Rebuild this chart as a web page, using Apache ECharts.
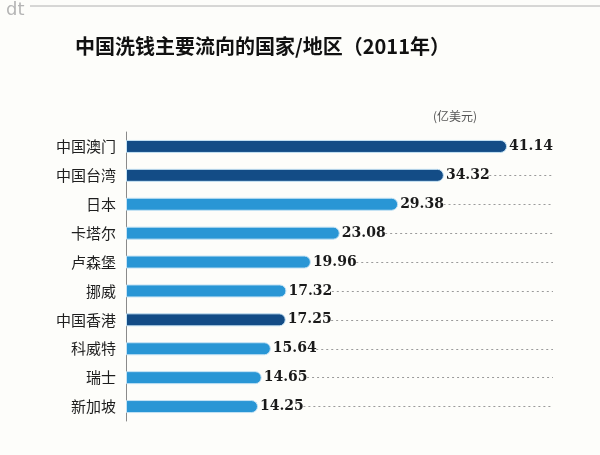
<!DOCTYPE html>
<html><head><meta charset="utf-8">
<script src="https://cdn.jsdelivr.net/npm/echarts@6/dist/echarts.min.js"></script>
<style>html,body{margin:0;padding:0;background:#fdfdfa;}#c{width:600px;height:455px;}</style>
</head><body><div id="c"></div>
<script>
const categories = ['中国澳门','中国台湾','日本','卡塔尔','卢森堡','挪威','中国香港','科威特','瑞士','新加坡'];
const values = [41.14, 34.32, 29.38, 23.08, 19.96, 17.32, 17.25, 15.64, 14.65, 14.25];
const darkItems = ['中国澳门','中国台湾','中国香港'];
const labelTexts = ['41.14','34.32','29.38','23.08','19.96','17.32','17.25','15.64','14.65','14.25'];

const DARK = '#134c86', LIGHT = '#2996d5';
const XMAX = 46.1;
const chart = echarts.init(document.getElementById('c'), null, {renderer:'canvas'});

const barData = values.map((v,i)=>({
  value: v,
  itemStyle: {color: darkItems.includes(categories[i]) ? DARK : LIGHT},
  label: {formatter: labelTexts[i]}
}));

const dots = [];
values.forEach((v,i)=>{
  if (i === 0) return;
  dots.push([{coord:[v + 4.9, categories[i]]},{coord:[XMAX, categories[i]]}]);
});

chart.setOption({
  backgroundColor:'#fdfdfa',
  animation:false,
  grid:{left:126, right:47, top:132, height:289},
  xAxis:{type:'value', min:0, max:XMAX, show:false},
  yAxis:{type:'category', data:categories, inverse:true,
    axisLine:{show:true, lineStyle:{color:'#8a8a8a', width:1}},
    axisTick:{show:false},
    axisLabel:{fontSize:15, color:'#1e1e1e', margin:10, fontFamily:'Noto Sans CJK SC'}
  },
  series:[{
    type:'bar', data:barData, barWidth:13,
    itemStyle:{borderRadius:[0,7,7,0], borderColor:'#c4e2f4', borderWidth:1},
    label:{show:true, position:'right', distance:2, fontSize:14, fontWeight:'bold',
      color:'#1a1a1a', fontFamily:'DejaVu Serif'},
    markLine:{symbol:['none','none'], silent:true, label:{show:false},
      lineStyle:{type:[2,3], color:'#9a9a9a', width:1},
      data:dots}
  }],
  graphic:[
    {type:'text', left:6, top:1, style:{text:'dt', fontSize:18, fill:'#b5b5b5', fontFamily:'DejaVu Sans'}},
    {type:'line', shape:{x1:30, y1:6, x2:600, y2:6}, style:{stroke:'#b0b0b0', lineWidth:1}},
    {type:'text', left:75, top:36, style:{text:'中国洗钱主要流向的国家/地区（2011年）', fontSize:20, fontWeight:'bold', fill:'#111', fontFamily:'Noto Sans CJK SC'}},
    {type:'text', left:433, top:110, style:{text:'(亿美元)', fontSize:12, fill:'#555', fontFamily:'Noto Sans CJK SC'}}
  ]
});
</script></body></html>
